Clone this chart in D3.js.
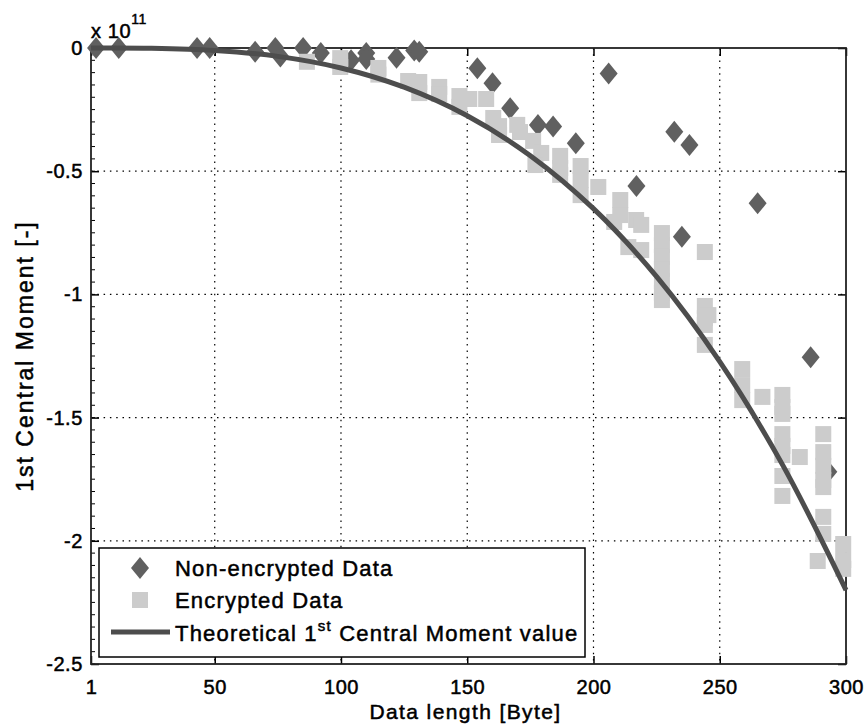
<!DOCTYPE html>
<html>
<head>
<meta charset="utf-8">
<script src="https://cdn.jsdelivr.net/npm/d3@7"></script>
<style>
    body { margin: 0; background: #fff; }
    text { font-family: 'Liberation Sans', Arial, sans-serif; fill: #000; stroke: #000; stroke-width: 0.5px; }
</style>
</head>
<body>
<script>
// axis ticks (y values are in units of 1e11)
const xTicks = [1, 50, 100, 150, 200, 250, 300];
const yTicks = [0, -0.5, -1, -1.5, -2, -2.5];

// non-encrypted data (diamonds)
const plainX = [3, 12, 43, 48, 66, 74, 76, 85, 92, 104, 110, 110, 122, 129, 131,
    154, 160, 167, 178, 184, 193, 206, 217, 232, 235, 238, 265, 286, 293];
const plainY = [0, 0, 0, 0, -0.015, 0, -0.035, 0, -0.02, -0.05, -0.02, -0.045, -0.04, -0.01, -0.015,
    -0.082, -0.143, -0.245, -0.312, -0.319, -0.387, -0.103, -0.56, -0.34, -0.766, -0.394, -0.63, -1.255, -1.72];

// encrypted data (squares)
const encX = [86.5, 99.7, 99.7, 114.8, 114.8, 126.6, 131, 131, 138.9, 138.9,
    146.9, 146.9, 150.8, 157.5, 160.3, 162.6, 162.6, 169.8, 170.9,
    176.1, 179.3, 177, 186.8, 186.8, 186.8, 194.9, 194.9, 194.9, 201.9,
    210.6, 210.6, 208.2, 216.9, 218.9, 213.8, 218.9,
    227.1, 227.1, 227.1, 227.1, 227.1, 227.1, 227.1,
    244.1, 244.1, 245.5, 244.1, 244.1, 244.1,
    258.9, 258.9, 258.9, 266.9,
    274.8, 274.8, 274.8, 274.8, 274.8, 274.8, 274.8, 274.8,
    281.7, 291, 291, 291, 291, 291, 291, 291, 288.8, 298.9, 298.9, 298.9];
const encY = [-0.056, -0.041, -0.077, -0.081, -0.108, -0.134, -0.138, -0.183, -0.158, -0.187,
    -0.195, -0.239, -0.207, -0.207, -0.284, -0.317, -0.353, -0.312, -0.341,
    -0.377, -0.426, -0.475, -0.438, -0.487, -0.515, -0.479, -0.536, -0.597, -0.564,
    -0.617, -0.678, -0.706, -0.698, -0.718, -0.808, -0.82,
    -0.751, -0.8, -0.848, -0.897, -0.946, -0.994, -1.023,
    -0.828, -1.047, -1.084, -1.096, -1.124, -1.205,
    -1.303, -1.368, -1.429, -1.416,
    -1.408, -1.457, -1.485, -1.567, -1.615, -1.652, -1.737, -1.818,
    -1.66, -1.567, -1.64, -1.696, -1.753, -1.782, -1.903, -1.972, -2.082, -2.013, -2.078, -2.114];

// theoretical 1st central moment
const theoryX = [1, 25, 50, 75, 100, 125, 150, 175, 200, 225, 250, 275, 300];
const theoryY = [0, -0.001, -0.01, -0.034, -0.081, -0.159, -0.275, -0.437, -0.652, -0.928, -1.273, -1.694, -2.2];

const width = 866;
const height = 728;
const marginLeft = 91;
const marginRight = 20;
const marginTop = 48;
const marginBottom = 64;

const svg = d3.select('body')
    .append('svg')
    .attr('width', width)
    .attr('height', height);

const x = d3.scaleLinear().domain([1, 300]).range([marginLeft, width - marginRight]);
const y = d3.scaleLinear().domain([-2.5, 0]).range([height - marginBottom, marginTop]);

const x0 = marginLeft, x1 = width - marginRight;
const y0 = marginTop, y1 = height - marginBottom;

// dotted grid
svg.append('g')
    .selectAll('line')
    .data(xTicks.slice(1, -1))
    .join('line')
    .attr('x1', d => x(d)).attr('x2', d => x(d))
    .attr('y1', y0).attr('y2', y1)
    .attr('stroke', '#000')
    .attr('stroke-width', 1.2)
    .attr('stroke-dasharray', '1.5,4.8');

svg.append('g')
    .selectAll('line')
    .data(yTicks.slice(1, -1))
    .join('line')
    .attr('x1', x0).attr('x2', x1)
    .attr('y1', d => y(d)).attr('y2', d => y(d))
    .attr('stroke', '#000')
    .attr('stroke-width', 1.2)
    .attr('stroke-dasharray', '1.5,4.8');

// minor ticks on the left axis
svg.append('g')
    .selectAll('line')
    .data(d3.range(0, 51).map(i => -i * 0.05))
    .join('line')
    .attr('x1', x0).attr('x2', x0 + 4)
    .attr('y1', d => y(d)).attr('y2', d => y(d))
    .attr('stroke', '#000')
    .attr('stroke-width', 1);

// axes
const fmt = d => d === 0 ? '0' : String(d);

svg.append('g')
    .attr('transform', `translate(0,${y1})`)
    .call(d3.axisBottom(x).tickValues(xTicks).tickSizeInner(-8).tickSizeOuter(0).tickPadding(12))
    .call(g => g.selectAll('text').attr('font-size', 20).attr('letter-spacing', 0.6).attr('dy', '0.9em'));

svg.append('g')
    .attr('transform', `translate(0,${y0})`)
    .call(d3.axisTop(x).tickValues(xTicks).tickSizeInner(-8).tickSizeOuter(0).tickFormat(''));

svg.append('g')
    .attr('transform', `translate(${x0},0)`)
    .call(d3.axisLeft(y).tickValues(yTicks).tickFormat(fmt).tickSizeInner(-8).tickSizeOuter(0).tickPadding(8))
    .call(g => g.selectAll('text').attr('font-size', 20).attr('letter-spacing', 0.6));

svg.append('g')
    .attr('transform', `translate(${x1},0)`)
    .call(d3.axisRight(y).tickValues(yTicks).tickSizeInner(-8).tickSizeOuter(0).tickFormat(''));

svg.selectAll('.domain').remove();
svg.selectAll('.tick line').attr('stroke', '#000').attr('stroke-width', 1.5);
svg.selectAll('.tick text').attr('fill', '#000');

// frame
svg.append('rect')
    .attr('x', x0).attr('y', y0)
    .attr('width', x1 - x0).attr('height', y1 - y0)
    .attr('fill', 'none')
    .attr('stroke', '#222')
    .attr('stroke-width', 1.8);

// markers: diamonds first, squares on top, then the curve
const diamond = 'M0,-11L9,0L0,11L-9,0Z';
const plain = plainX.map((d, i) => ({x: d, y: plainY[i]}));
const enc = encX.map((d, i) => ({x: d, y: encY[i]}));

svg.append('g')
    .selectAll('path')
    .data(plain)
    .join('path')
    .attr('d', diamond)
    .attr('transform', d => `translate(${x(d.x)},${y(d.y)})`)
    .attr('fill', '#606060');

svg.append('g')
    .selectAll('rect')
    .data(enc)
    .join('rect')
    .attr('x', d => x(d.x) - 8)
    .attr('y', d => y(d.y) - 8)
    .attr('width', 16)
    .attr('height', 16)
    .attr('fill', '#cccccc');

const line = d3.line()
    .x((d, i) => x(theoryX[i]))
    .y(d => y(d))
    .curve(d3.curveCatmullRom);

svg.append('path')
    .datum(theoryY)
    .attr('d', line)
    .attr('fill', 'none')
    .attr('stroke', '#4d4d4d')
    .attr('stroke-width', 5);

// exponent label
const expo = svg.append('text')
    .attr('x', 91)
    .attr('y', 38)
    .attr('font-size', 20)
    .attr('letter-spacing', 0.6);
expo.append('tspan').text('x 10');
expo.append('tspan').attr('font-size', 14).attr('dy', -14).text('11');

// axis titles
svg.append('text')
    .attr('x', (x0 + x1) / 2 - 3)
    .attr('y', 719)
    .attr('text-anchor', 'middle')
    .attr('font-size', 21)
    .attr('letter-spacing', 1.4)
    .text('Data length [Byte]');

svg.append('text')
    .attr('transform', `translate(33,${(y0 + y1) / 2}) rotate(-90)`)
    .attr('text-anchor', 'middle')
    .attr('font-size', 23)
    .attr('letter-spacing', 2)
    .text('1st Central Moment [-]');

// legend
const legend = svg.append('g');
legend.append('rect')
    .attr('x', 99).attr('y', 548)
    .attr('width', 486).attr('height', 109)
    .attr('fill', '#fff')
    .attr('stroke', '#000')
    .attr('stroke-width', 1.5);

legend.append('path')
    .attr('d', diamond)
    .attr('transform', 'translate(140,568)')
    .attr('fill', '#606060');
legend.append('rect')
    .attr('x', 132).attr('y', 592)
    .attr('width', 16).attr('height', 16)
    .attr('fill', '#cccccc');
legend.append('line')
    .attr('x1', 111).attr('x2', 170)
    .attr('y1', 632).attr('y2', 632)
    .attr('stroke', '#4d4d4d')
    .attr('stroke-width', 5);

const legendText = [
    {y: 576, text: 'Non-encrypted Data'},
    {y: 608, text: 'Encrypted Data'}
];
legend.selectAll('text.item')
    .data(legendText)
    .join('text')
    .attr('class', 'item')
    .attr('x', 175)
    .attr('y', d => d.y)
    .attr('font-size', 22)
    .attr('letter-spacing', 1.2)
    .text(d => d.text);

const theoryLabel = legend.append('text')
    .attr('x', 175)
    .attr('y', 641)
    .attr('font-size', 22)
    .attr('letter-spacing', 1.2);
theoryLabel.append('tspan').text('Theoretical 1');
theoryLabel.append('tspan').attr('font-size', 15).attr('dy', -10).text('st');
theoryLabel.append('tspan').attr('dy', 10).text(' Central Moment value');
</script>
</body>
</html>
